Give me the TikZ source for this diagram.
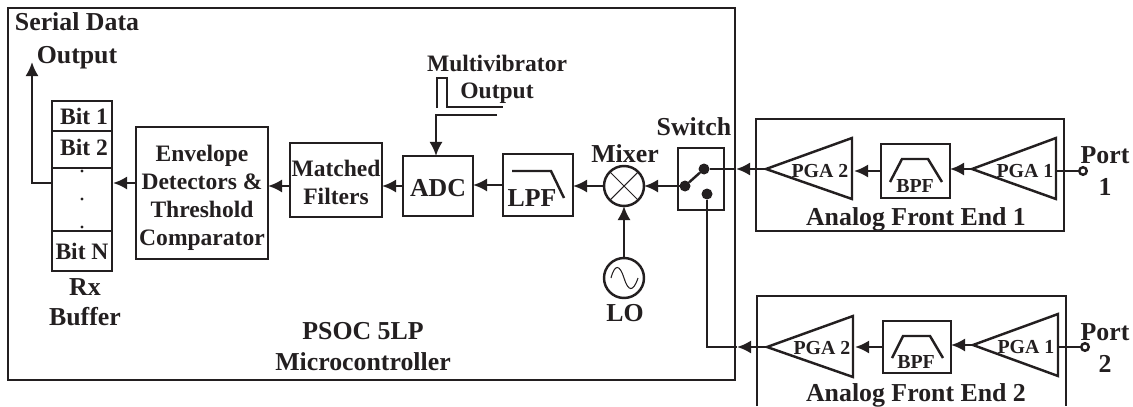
\documentclass[tikz,border=0pt]{standalone}
\usepackage{fontspec}
\setmainfont{Liberation Serif}
\usepackage{xcolor}
\usetikzlibrary{arrows.meta,positioning}
\definecolor{inkblack}{HTML}{231F20}
\tikzset{
  wire/.style={draw=inkblack,line width=1.4pt},
  sig/.style={wire,-{Latex[length=8pt,width=7.5pt]}},
  block/.style={wire,rectangle,inner sep=0pt,outer sep=0pt},
  dotnode/.style={circle,fill=inkblack,inner sep=0pt,outer sep=0pt,minimum size=.22cm},
  roundnode/.style={wire,circle,inner sep=0pt,outer sep=0pt,minimum size=.8cm},
  portnode/.style={wire,circle,fill=white,inner sep=0pt,outer sep=0pt,minimum size=.15cm},
  biglabel/.style={text=inkblack,inner sep=0pt,align=center,font=\fontsize{14.7}{16}\selectfont\bfseries},
  midlabel/.style={text=inkblack,inner sep=0pt,align=center,font=\fontsize{13.4}{16}\selectfont\bfseries},
  smalllabel/.style={text=inkblack,inner sep=0pt,font=\fontsize{11.3}{13}\selectfont\bfseries},
}
\begin{document}
\begin{tikzpicture}[x=.02cm,y=-.02cm]
\useasboundingbox (0,0) rectangle (1133,406);
\draw[wire] (8,8) rectangle (735,380);
\node[biglabel] (serialtext) at (77,22) {Serial Data};
\node[biglabel] (outputtext) at (77,58) {Output};
\node[block,minimum width=1.2cm,minimum height=.6cm] (bitone) at (82,116) {};
\node[block,minimum width=1.2cm,minimum height=.74cm] (bittwo) at (82,149.5) {};
\node[block,minimum width=1.2cm,minimum height=1.26cm] (bitdots) at (82,199.5) {};
\node[block,minimum width=1.2cm,minimum height=.8cm] (bitn) at (82,251) {};
\node[midlabel] (bitonetext) at (84,116) {Bit 1};
\node[midlabel] (bittwotext) at (84,147) {Bit 2};
\node[midlabel] (bitntext) at (82,251) {Bit N};
\foreach \doty in {171,199,227} \fill[inkblack] (82,\doty) circle (1.6);
\node[biglabel] (rxtext) at (85,287) {Rx};
\node[biglabel] (buffertext) at (85,317) {Buffer};
\node[block,minimum width=2.64cm,minimum height=2.64cm] (env) at (202,193) {};
\node[midlabel] (envtext) at (202,198) {Envelope\\Detectors \&\\Threshold\\Comparator};
\node[block,minimum width=1.84cm,minimum height=1.48cm] (matched) at (336,180) {};
\node[midlabel] (matchedtext) at (336,182) {Matched\\Filters};
\node[block,minimum width=1.4cm,minimum height=1.2cm] (adc) at (438,186) {};
\node[biglabel] (adctext) at (438,188) {ADC};
\node[block,minimum width=1.4cm,minimum height=1.24cm] (lpf) at (538,185) {};
\node[biglabel] (lpftext) at (532,198) {LPF};
\draw[wire] (512,171) -- (551,171) -- (564,198);
\node[roundnode] (mixer) at (624,186) {};
\draw[inkblack,line width=.6pt] (mixer.45) -- (mixer.225) (mixer.135) -- (mixer.315);
\node[biglabel] (mixertext) at (625,154) {Mixer};
\node[roundnode] (lo) at (624,278) {};
\draw[inkblack,line width=.6pt] (611,278) .. controls (615,263) and (620,265) .. (624,278) .. controls (628,291) and (633,293) .. (638,278);
\node[biglabel] (lotext) at (625,313) {LO};
\node[block,minimum width=.92cm,minimum height=1.24cm] (switch) at (701,179) {};
\node[biglabel] (switchtext) at (694,127) {Switch};
\node[dotnode] (swin) at (685,186) {};
\node[dotnode] (swa) at (704,169) {};
\node[dotnode] (swb) at (707,194) {};
\draw[wire] (swin) -- (swa);
\node[midlabel] (multitext) at (497,63) {Multivibrator};
\node[midlabel] (pulsetext) at (497,93) {Output};
\draw[wire] (437,108) -- (437,78) -- (447,78) -- (447,107) -- (503,107);
\coordinate (pulsein) at (497,115);
\coordinate (adcin) at (436,156);
\draw[sig] (pulsein) -| (adcin);
\coordinate (rxin) at (113,183);
\coordinate (rxout) at (52,183);
\coordinate (serialout) at (32,62);
\draw[sig] (rxout) -| (serialout);
\draw[sig] (env.west |- rxin) -- (rxin);
\draw[sig] (matched.west |- adc.west) -- (env.east |- adc.west);
\draw[sig] (adc.west) -- (adc.west -| matched.east);
\draw[sig] (lpf.west) -- (lpf.west -| adc.east);
\draw[sig] (mixer.west) -- (mixer.west -| lpf.east);
\draw[sig] (swin) -- (mixer.east);
\draw[sig] (lo.north) -- (mixer.south);
\node[biglabel] (psoctext) at (363,331) {PSOC 5LP};
\node[biglabel] (microtext) at (363,362) {Microcontroller};
\draw[wire] (756,119) rectangle (1064,231);
\draw[wire] (766,169) coordinate (pgbtipa) -- (852,138) -- (852,199) -- cycle;
\node[smalllabel] (pgbtexta) at (820,171) {PGA 2};
\node[block,minimum width=1.38cm,minimum height=1.08cm] (bpfa) at (915.5,171) {};
\draw[wire] (890,182) -- (902,159) -- (928,159) -- (942,182);
\node[smalllabel] (bpftexta) at (915,186) {BPF};
\draw[wire] (972,169) coordinate (pgatipa) -- (1056,138) -- (1056,199) -- cycle;
\node[smalllabel] (pgatexta) at (1025,171) {PGA 1};
\node[portnode] (porta) at (1083,171) {};
\coordinate (pgaenda) at (1056,171);
\draw[wire] (pgaenda) -- (porta);
\node[biglabel] (porttexta) at (1105,155) {Port};
\node[biglabel] (portnuma) at (1105,187) {1};
\node[biglabel] (fronttexta) at (916,219) {Analog Front End 1};
\draw[sig] (bpfa.west) -- (bpfa.west -| 854,0);
\draw[sig] (pgatipa) -- (pgatipa -| bpfa.east);
\coordinate (fronta) at (736,169);
\draw[sig] (pgbtipa) -- (fronta);
\draw[wire] (fronta) -- (swa);
\draw[wire] (757,406) |- (1066,296) -- (1066,406);
\draw[wire] (767,347) coordinate (pgbtipb) -- (853,316) -- (853,377) -- cycle;
\node[smalllabel] (pgbtextb) at (822,348) {PGA 2};
\node[block,minimum width=1.36cm,minimum height=1.04cm] (bpfb) at (917,347) {};
\draw[wire] (892,358) -- (903,336) -- (930,336) -- (943,358);
\node[smalllabel] (bpftextb) at (916,362) {BPF};
\draw[wire] (973,345) coordinate (pgatipb) -- (1058,314) -- (1058,376) -- cycle;
\node[smalllabel] (pgatextb) at (1026,347) {PGA 1};
\node[portnode] (portb) at (1085,347) {};
\coordinate (pgaendb) at (1058,347);
\draw[wire] (pgaendb) -- (portb);
\node[biglabel] (porttextb) at (1105,332) {Port};
\node[biglabel] (portnumb) at (1105,364) {2};
\node[biglabel] (fronttextb) at (916,395) {Analog Front End 2};
\draw[sig] (bpfb.west) -- (bpfb.west -| 855,0);
\draw[sig] (pgatipb) -- (pgatipb -| bpfb.east);
\coordinate (frontb) at (737,347);
\draw[sig] (pgbtipb) -- (frontb);
\draw[wire] (swb) |- (frontb);
\end{tikzpicture}
\end{document}
